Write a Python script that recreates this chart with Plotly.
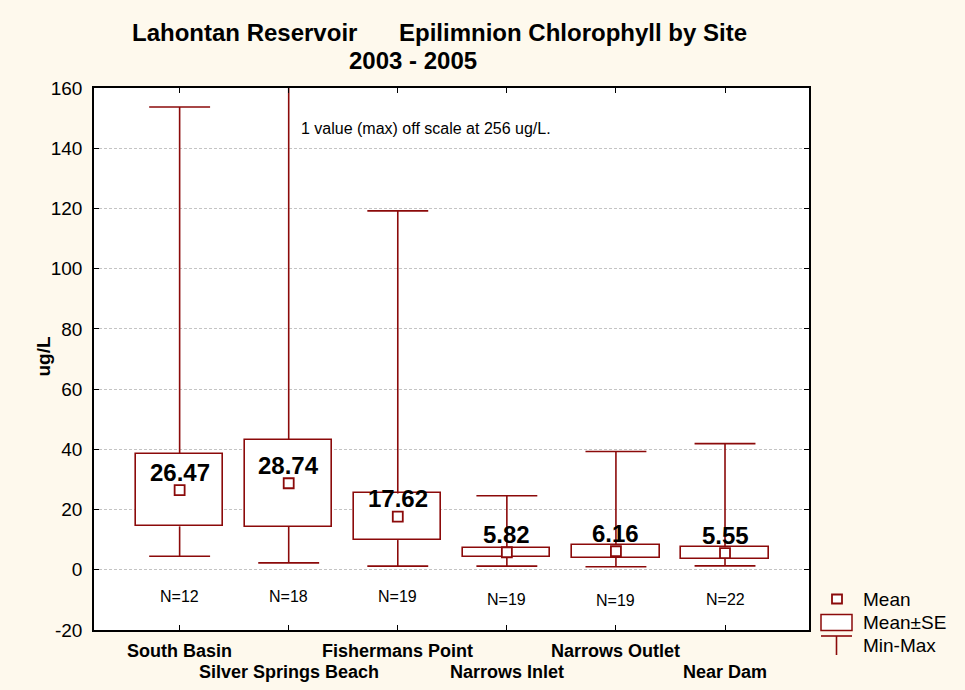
import plotly.graph_objects as go

# ---------------- data ----------------
sites = ["South Basin", "Silver Springs Beach", "Fishermans Point",
         "Narrows Inlet", "Narrows Outlet", "Near Dam"]
means = [26.47, 28.74, 17.62, 5.82, 6.16, 5.55]
se = [12.05, 14.45, 7.75, 1.50, 2.20, 1.95]
mins = [4.5, 2.3, 1.2, 1.2, 1.0, 1.3]
maxs = [153.7, 256.0, 119.2, 24.6, 39.3, 41.9]
counts = [12, 18, 19, 19, 19, 22]
y_ticks = [-20, 0, 20, 40, 60, 80, 100, 120, 140, 160]
y_tick_text = ["-20", "0", "20", "40", "60", "80", "100", "120", "140", "160"]

# ---------------- style ----------------
RED = "#8B0A0A"
BG = "rgb(254,249,237)"
FONT = "Liberation Sans, Arial, sans-serif"
n_label_y = [-8.8, -8.8, -8.8, -9.9, -10.1, -9.9]

L0, PW, T0, PH = 94, 715, 88, 542


def px(x):
    return (x - L0) / PW


def py(y):
    return (T0 + PH - y) / PH


xs = list(range(len(sites)))
lo = [m - s for m, s in zip(means, se)]
hi = [m + s for m, s in zip(means, se)]

fig = go.Figure()

# Mean +/- SE boxes
fig.add_trace(go.Bar(
    x=xs, y=[2 * s for s in se], base=lo, width=0.8,
    marker=dict(color="white", line=dict(color=RED, width=1.6)),
    showlegend=False, hoverinfo="skip"))

# upper whisker stems (box top -> max)
fig.add_trace(go.Scatter(
    x=xs, y=hi, mode="markers",
    marker=dict(color="rgba(0,0,0,0)", size=1),
    error_y=dict(type="data", symmetric=False,
                 array=[mx - h for mx, h in zip(maxs, hi)],
                 arrayminus=[0] * len(xs),
                 color=RED, thickness=1.6, width=0),
    showlegend=False, hoverinfo="skip"))

# lower whisker stems (box bottom -> min)
fig.add_trace(go.Scatter(
    x=xs, y=lo, mode="markers",
    marker=dict(color="rgba(0,0,0,0)", size=1),
    error_y=dict(type="data", symmetric=False,
                 array=[0] * len(xs),
                 arrayminus=[l - mn for l, mn in zip(lo, mins)],
                 color=RED, thickness=1.6, width=0),
    showlegend=False, hoverinfo="skip"))

# whisker caps at min and max
fig.add_trace(go.Scatter(
    x=xs + xs, y=mins + maxs, mode="markers",
    marker=dict(symbol="line-ew", size=43.5,
                line=dict(color=RED, width=1.6)),
    showlegend=False, hoverinfo="skip"))

# mean markers
fig.add_trace(go.Scatter(
    x=xs, y=means, mode="markers",
    marker=dict(symbol="square", size=10, color="white",
                line=dict(color=RED, width=1.8)),
    showlegend=False, hoverinfo="skip"))

annotations = []
# mean value labels
for x, m in zip(xs, means):
    annotations.append(dict(x=x, y=m, xref="x", yref="y", text=f"<b>{m:.2f}</b>",
                            showarrow=False, yshift=18,
                            font=dict(family=FONT, size=24, color="black")))
# N labels
for x, n, ny in zip(xs, counts, n_label_y):
    annotations.append(dict(x=x, y=ny, xref="x", yref="y", text=f"N={n}",
                            showarrow=False,
                            font=dict(family=FONT, size=16, color="black")))
# staggered category labels
for x, s in zip(xs, sites):
    annotations.append(dict(x=x, y=py(651) if x % 2 == 0 else py(672),
                            xref="x", yref="paper", text=f"<b>{s}</b>",
                            showarrow=False, yanchor="middle",
                            font=dict(family=FONT, size=18, color="black")))
# off-scale note
annotations.append(dict(x=px(299), y=py(128), xref="paper", yref="paper", xanchor="left",
                        yanchor="middle",
                        text="1 value (max) off scale at 256 ug/L.", showarrow=False,
                        font=dict(family=FONT, size=16, color="black")))
# titles
annotations.append(dict(x=px(130), y=py(32), xref="paper", yref="paper",
                        xanchor="left", yanchor="middle", showarrow=False,
                        text="<b>Lahontan Reservoir</b>",
                        font=dict(family=FONT, size=24, color="black")))
annotations.append(dict(x=px(397), y=py(32), xref="paper", yref="paper",
                        xanchor="left", yanchor="middle", showarrow=False,
                        text="<b>Epilimnion Chlorophyll by Site</b>",
                        font=dict(family=FONT, size=24, color="black")))
annotations.append(dict(x=px(412.5), y=py(61), xref="paper", yref="paper",
                        xanchor="center", yanchor="middle", showarrow=False,
                        text="<b>2003 - 2005</b>",
                        font=dict(family=FONT, size=24, color="black")))
# y axis title
annotations.append(dict(x=px(30), y=py(357), xref="paper", yref="paper",
                        textangle=-90, showarrow=False, text="<b>ug/L</b>",
                        font=dict(family=FONT, size=19, color="black")))

# legend (custom)
legend_items = ["Mean", "Mean±SE", "Min-Max"]
legend_y = [599, 622, 645]
for t, ly in zip(legend_items, legend_y):
    annotations.append(dict(x=px(861), y=py(ly), xref="paper", yref="paper",
                            xanchor="left", yanchor="middle", showarrow=False, text=t,
                            font=dict(family=FONT, size=19, color="black")))

shapes = [
    dict(type="rect", xref="paper", yref="paper", x0=px(832), x1=px(842),
         y0=py(603.5), y1=py(594.5), line=dict(color=RED, width=1.8), fillcolor="white"),
    dict(type="rect", xref="paper", yref="paper", x0=px(821), x1=px(852),
         y0=py(630.5), y1=py(614.5), line=dict(color=RED, width=1.5), fillcolor="white"),
    dict(type="line", xref="paper", yref="paper", x0=px(821), x1=px(852),
         y0=py(636), y1=py(636), line=dict(color=RED, width=1.6)),
    dict(type="line", xref="paper", yref="paper", x0=px(836.5), x1=px(836.5),
         y0=py(636), y1=py(655), line=dict(color=RED, width=1.6)),
]

fig.update_layout(
    width=965, height=690,
    margin=dict(l=L0, r=965 - L0 - PW, t=T0, b=690 - T0 - PH, pad=0),
    paper_bgcolor=BG, plot_bgcolor="white",
    showlegend=False, bargap=0,
    annotations=annotations, shapes=shapes,
    font=dict(family=FONT, color="black"),
)
fig.update_xaxes(range=[-0.785, 5.77], tickvals=xs, showticklabels=False,
                 ticks="inside", ticklen=5, tickcolor="black", tickwidth=1,
                 showline=True, linecolor="black", linewidth=1.5, mirror="ticks",
                 showgrid=False, zeroline=False)
fig.update_yaxes(range=[-20, 160], tickvals=y_ticks, ticktext=y_tick_text,
                 ticks="inside", ticklen=5, tickcolor="black", tickwidth=1,
                 showline=True, linecolor="black", linewidth=1.5, mirror="ticks",
                 showgrid=True, gridcolor="#C4C4C4", gridwidth=1, griddash="3px,2px",
                 zeroline=False, ticklabelstandoff=6,
                 tickfont=dict(family=FONT, size=19, color="black"))

fig.write_html("out.html",
               config={"displayModeBar": False},
               post_script="document.body.style.margin='0';"
                           "document.body.style.background='rgb(254,249,237)';")
